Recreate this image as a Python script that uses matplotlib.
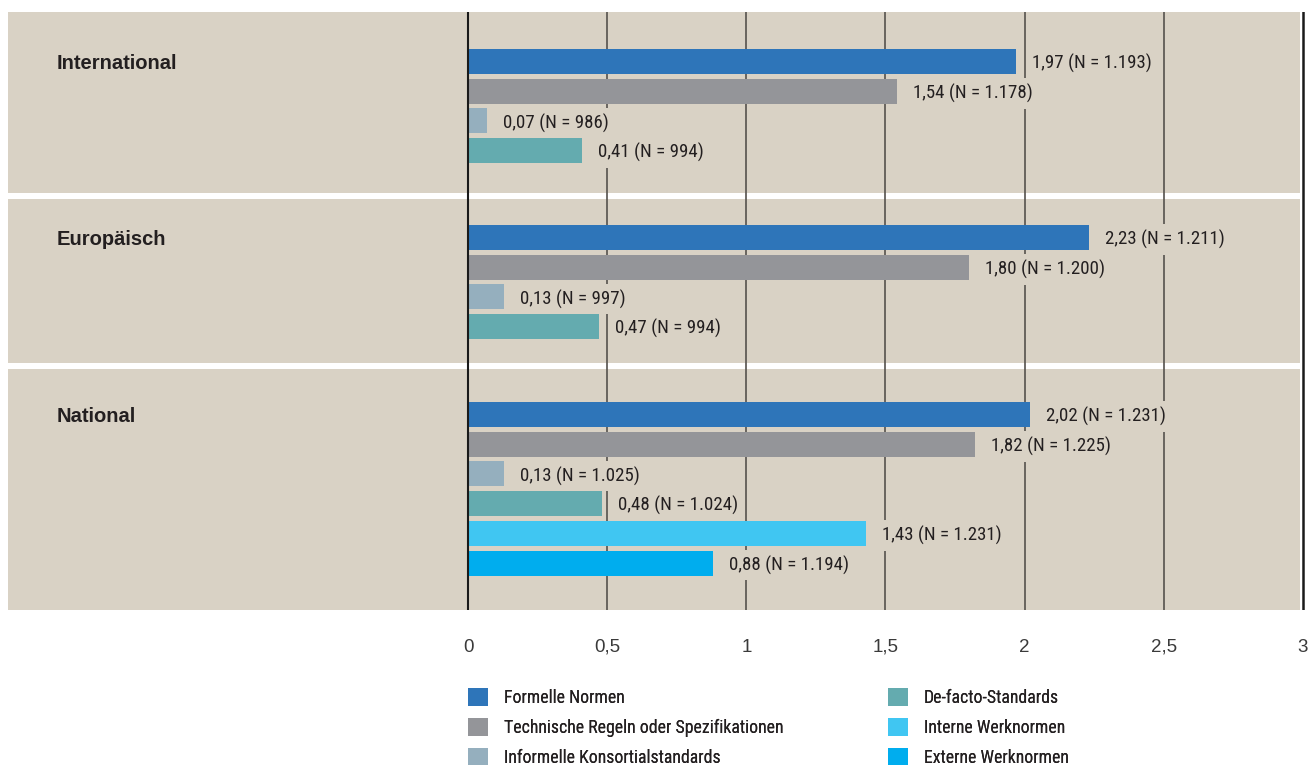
import matplotlib
matplotlib.use("Agg")
import matplotlib.pyplot as plt
from matplotlib.patches import Patch

# data
GROUPS = ["International", "Europäisch", "National"]
CATEGORIES = [
    "Formelle Normen",
    "Technische Regeln oder Spezifikationen",
    "Informelle Konsortialstandards",
    "De-facto-Standards",
    "Interne Werknormen",
    "Externe Werknormen",
]
VALUES = [
    [1.97, 1.54, 0.07, 0.41],
    [2.23, 1.80, 0.13, 0.47],
    [2.02, 1.82, 0.13, 0.48, 1.43, 0.88],
]
COUNTS = [
    [1193, 1178, 986, 994],
    [1211, 1200, 997, 994],
    [1231, 1225, 1025, 1024, 1231, 1194],
]
XTICKS = [0, 0.5, 1, 1.5, 2, 2.5, 3]

COLORS = ["#2e75b9", "#949599", "#95afbe", "#64abaf", "#40c6f2", "#00adee"]
BG = "#d9d2c5"
TXT = "#231f20"
NARROW = ["Roboto Condensed", "DejaVu Sans"]
PLAIN = ["Liberation Sans", "DejaVu Sans"]

# layout (pixel units, y axis inverted)
W, H = 1308, 765
PX_ZERO, PX_PER_UNIT = 468, 278.33
PANELS = [(12, 193), (199, 363), (369, 610)]
FIRST_ROW = [61.5, 237.5, 414.5]
PITCH = 29.7
BAR_H = 25


def px2x(px):
    return (px - PX_ZERO) / PX_PER_UNIT


def fmt_num(v):
    return f"{v:.2f}".replace(".", ",")


def fmt_n(n):
    return f"{n:,}".replace(",", ".")


fig = plt.figure(figsize=(W / 100, H / 100), dpi=100)
ax = fig.add_axes([8 / W, 1 - 610 / H, (1306 - 8) / W, (610 - 12) / H])
ax.set_xlim(px2x(8), px2x(1306))
ax.set_ylim(610, 12)
ax.axis("off")

panel_right = (1300 - 8) / (1306 - 8)
for top, bottom in PANELS:
    ax.axhspan(top, bottom, xmin=0, xmax=panel_right, color=BG, lw=0, zorder=0)

for t in XTICKS[1:-1]:
    ax.plot([t, t], [12, 610], color="#55524e", lw=1.2, zorder=1)
ax.plot([0, 0], [12, 610], color="#1a1a1a", lw=1.5, zorder=4)
ax.plot([3, 3], [12, 610], color="#1a1a1a", lw=1.8, zorder=4)

for g, name in enumerate(GROUPS):
    ys = [FIRST_ROW[g] + i * PITCH for i in range(len(VALUES[g]))]
    ax.barh(ys, VALUES[g], height=BAR_H, color=COLORS[:len(VALUES[g])],
            lw=0, zorder=3)
    for y, v, n in zip(ys, VALUES[g], COUNTS[g]):
        ax.annotate(f"{fmt_num(v)} (N = {fmt_n(n)})", (v, y),
                    xytext=(11.5, 0), textcoords="offset points",
                    ha="left", va="center_baseline", fontsize=13.6,
                    color=TXT, family=NARROW, zorder=5,
                    bbox=dict(boxstyle="square,pad=0.3", fc=BG, ec="none"))
    ax.text(px2x(57), FIRST_ROW[g], name, ha="left", va="center_baseline",
            fontsize=14.5, fontweight="bold", color=TXT,
            family=PLAIN, zorder=5)

for t in XTICKS:
    lab = ("%g" % t).replace(".", ",")
    ax.text(t, 647, lab, ha="center", va="center", fontsize=13.5,
            color="#3a3a3a", family=PLAIN)

handles = [Patch(facecolor=c, edgecolor="none") for c in COLORS]
for col in range(2):
    leg = fig.legend(handles[col * 3:col * 3 + 3], CATEGORIES[col * 3:col * 3 + 3],
                     loc="upper left",
                     bbox_to_anchor=((468 if col == 0 else 888) / W, 1 - 688 / H),
                     frameon=False, borderpad=0, borderaxespad=0,
                     handlelength=1.15, handleheight=1.15, handletextpad=0.85,
                     labelspacing=0.62,
                     prop={"family": NARROW, "size": 12.8})
    for txt in leg.get_texts():
        txt.set_color(TXT)
    fig.add_artist(leg)

fig.savefig("out.png", dpi=100, facecolor="white")
